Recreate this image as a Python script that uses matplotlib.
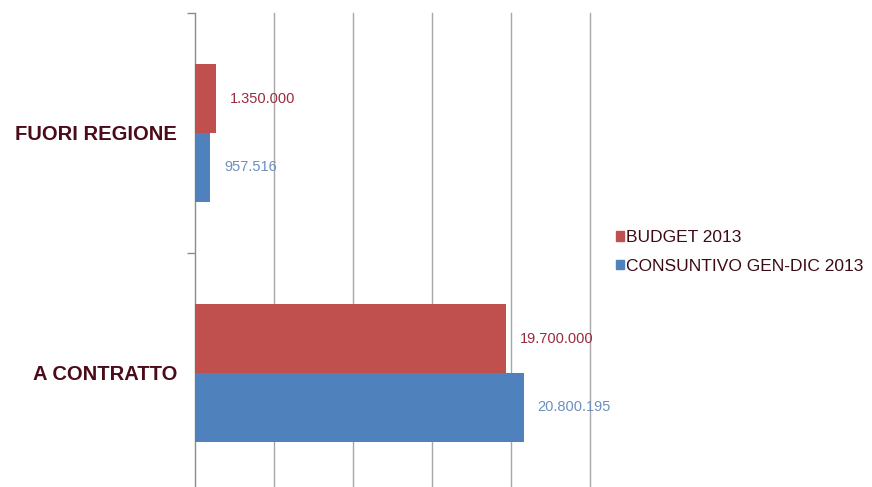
import numpy as np
import matplotlib.pyplot as plt
from matplotlib.patches import Patch

plt.rcParams['font.family'] = ['Liberation Sans', 'DejaVu Sans']

# data
categories = ['A CONTRATTO', 'FUORI REGIONE']
budget = [19700000, 1350000]
consuntivo = [20800195, 957516]
budget_labels = ['19.700.000', '1.350.000']
consuntivo_labels = ['20.800.195', '957.516']
series_names = ['BUDGET 2013', 'CONSUNTIVO GEN-DIC 2013']

red = '#c0504d'
blue = '#4f81bd'
grid_col = '#aaa5a8'

fig = plt.figure(figsize=(8.72, 4.87), dpi=100)
ax = fig.add_axes([195 / 872, 1 - 493 / 487, 395 / 872, 480 / 487])

y = np.arange(len(categories))
h = 0.286
ax.barh(y + h / 2, budget, height=h, color=red, zorder=3)
ax.barh(y - h / 2, consuntivo, height=h, color=blue, zorder=3)

# value labels
for i in range(len(categories)):
    ax.annotate(budget_labels[i], (budget[i], y[i] + h / 2), xytext=(10, 0),
                textcoords='offset points', va='center', ha='left',
                fontsize=10.5, color='#9a2b3c', zorder=4)
    ax.annotate(consuntivo_labels[i], (consuntivo[i], y[i] - h / 2), xytext=(10, 0),
                textcoords='offset points', va='center', ha='left',
                fontsize=10.5, color='#6d8fc0', zorder=4)

ax.set_xlim(0, 25000000)
ax.set_ylim(-0.5, 1.5)

# vertical grid
ax.set_xticks(np.arange(0, 25000001, 5000000))
ax.xaxis.grid(True, color=grid_col, linewidth=1)
for gl in ax.get_xgridlines():
    gl.set_clip_on(False)
ax.tick_params(axis='x', length=0, labelbottom=False)

# category labels
ax.set_yticks(y)
ax.set_yticklabels(categories, fontsize=14.5, fontweight='bold', color='#4b0c19')
ax.tick_params(axis='y', which='major', length=0, pad=13)
ax.set_yticks([-0.5, 0.5, 1.5], minor=True)
ax.tick_params(axis='y', which='minor', length=6, color='#8c8c8c', width=1)

for s in ['top', 'right', 'bottom']:
    ax.spines[s].set_visible(False)
ax.spines['left'].set_color('#8c8c8c')

handles = [Patch(color=red), Patch(color=blue)]
fig.legend(handles, series_names, loc='center left',
           bbox_to_anchor=(600 / 872, 1 - 252 / 487), frameon=False,
           fontsize=12.5, labelcolor='#3d0b15', handlelength=0.46, handleheight=0.46,
           handletextpad=0.15, labelspacing=0.78)

fig.savefig('out.png', dpi=100, facecolor='white')
